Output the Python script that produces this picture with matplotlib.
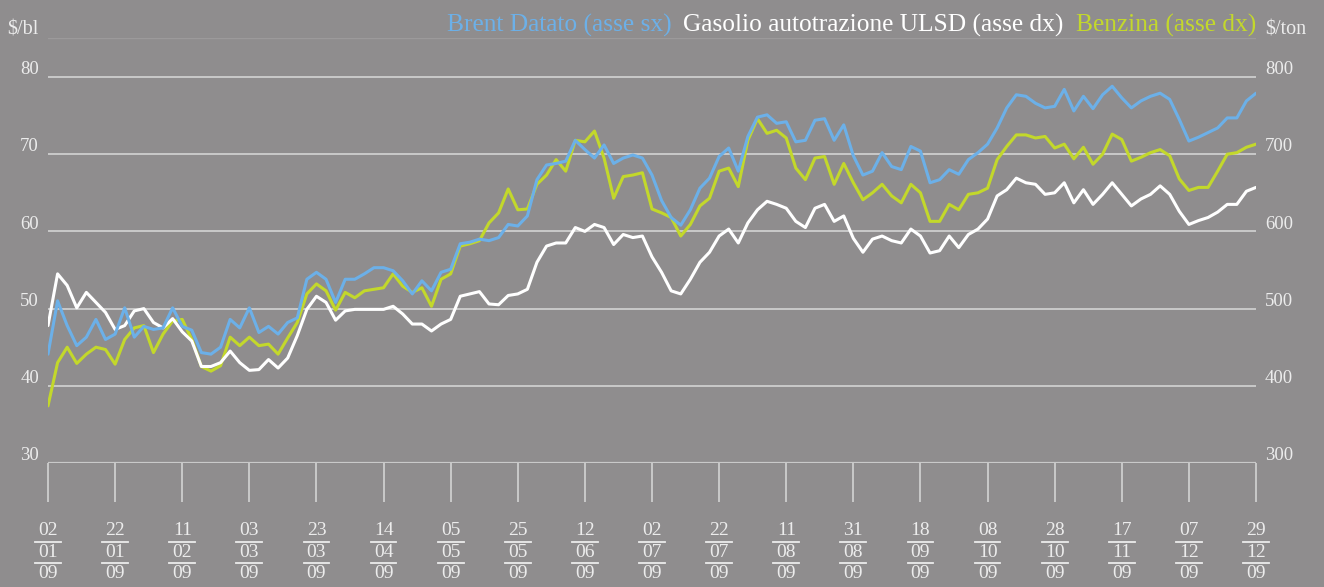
import numpy as np
import matplotlib
matplotlib.use("Agg")
import matplotlib.pyplot as plt

plt.rcParams['font.family'] = ['Liberation Serif', 'DejaVu Serif']

# trading-day index, one sample every 2 sessions (02/01/09 .. 29/12/09)
days = np.arange(0, 253, 2)

# Brent Datato, $/bl (left axis)
brent = [44.1, 51.0, 47.8, 45.2, 46.3, 48.6, 46.0, 46.7, 50.1, 46.3, 47.7, 47.3, 47.5, 50.1, 47.7, 47.2,
         44.3, 44.1, 45.0, 48.6, 47.5, 50.1, 46.9,
         47.7, 46.7, 48.2, 48.8, 53.8, 54.7, 53.8, 50.8, 53.8, 53.8, 54.5, 55.3, 55.3, 54.9, 53.6, 51.9,
         53.6, 52.3, 54.7, 55.1, 58.4, 58.6,
         59.0, 58.8, 59.2, 60.9, 60.7, 62.0, 66.7, 68.6, 68.8, 69.1, 71.8, 70.6, 69.5, 71.2, 68.8, 69.5,
         69.9, 69.5, 67.3, 64.0,
         61.8, 60.8, 62.8, 65.6, 66.9, 69.7, 70.8, 67.8, 72.3, 74.8, 75.1, 74.0, 74.2, 71.6, 71.8, 74.4,
         74.6, 71.8, 73.8, 69.8, 67.3,
         67.8, 70.2, 68.4, 68.0, 71.0, 70.4, 66.3, 66.7, 68.0, 67.4, 69.3, 70.2, 71.3, 73.4, 76.0, 77.7,
         77.5, 76.6, 76.0, 76.2, 78.4,
         75.6, 77.5, 75.9, 77.7, 78.8, 77.3, 76.0, 76.9, 77.5, 77.9, 77.1, 74.5, 71.7, 72.2, 72.8, 73.4,
         74.7, 74.7, 76.9, 77.9]

# Gasolio autotrazione ULSD, $/ton (right axis)
gasolio = [478, 545, 530, 501, 521, 508, 495, 473, 478, 497, 500, 482, 475, 487, 470, 458,
           425, 425, 430, 445, 430, 420, 421,
           434, 423, 436, 465, 499, 516, 508, 485, 497, 499, 499, 499, 499, 503, 493, 480,
           480, 471, 480, 486, 516, 519,
           522, 506, 505, 517, 519, 525, 560, 581, 585, 585, 605, 600, 609, 605, 583, 596,
           592, 594, 567, 547,
           523, 519, 538, 560, 573, 594, 603, 585, 611, 628, 639, 635, 630, 613, 605, 630,
           635, 613, 620, 591, 573,
           590, 594, 588, 585, 603, 594, 572, 575, 594, 579, 596, 603, 616, 646, 654, 669,
           663, 661, 648, 650, 663,
           637, 654, 635, 648, 663, 648, 633, 642, 648, 659, 648, 626, 609, 614, 618, 625,
           635, 635, 652, 657]

# Benzina, $/ton (right axis)
benzina = [374, 430, 450, 429, 441, 450, 447, 428, 460, 475, 478, 443, 467, 484, 486, 460,
           425, 419, 426, 463, 452, 463, 452,
           454, 441, 462, 482, 519, 532, 523, 498, 521, 514, 523, 525, 527, 545, 529, 521,
           527, 503, 538, 545, 581, 584,
           588, 611, 624, 655, 628, 629, 661, 673, 693, 678, 718, 716, 730, 695, 643, 671,
           673, 676, 629, 624,
           618, 594, 609, 633, 643, 678, 682, 658, 718, 746, 727, 731, 721, 682, 667, 695,
           697, 661, 688, 663, 641,
           650, 661, 646, 637, 661, 650, 613, 613, 635, 628, 648, 650, 656, 693, 710, 725,
           725, 721, 723, 708, 713,
           694, 709, 687, 700, 726, 719, 691, 696, 702, 706, 698, 668, 653, 657, 657, 678,
           700, 702, 709, 713]

tick_pos = np.arange(0, 253, 14)
tick_day = ["02", "22", "11", "03", "23", "14", "05", "25", "12", "02",
            "22", "11", "31", "18", "08", "28", "17", "07", "29"]
tick_month = ["01", "01", "02", "03", "03", "04", "05", "05", "06", "07",
              "07", "08", "08", "09", "10", "10", "11", "12", "12"]
tick_year = ["09"] * 19

left_ticks = [30, 40, 50, 60, 70, 80]
right_ticks = [300, 400, 500, 600, 700, 800]

BG = "#8f8d8e"
GRID = "#c9c9c9"
TXT = "#ececec"
BLUE = "#6cb0e8"
GREEN = "#c3d82b"

fig = plt.figure(figsize=(13.24, 5.87), dpi=100, facecolor=BG)
ax = fig.add_axes([48 / 1324, 124 / 587, 1208 / 1324, 424.6 / 587])
ax2 = ax.twinx()
ax.set_zorder(ax2.get_zorder() + 1)
ax.patch.set_visible(False)

ax.set_xlim(0, 252)
ax.set_ylim(30, 85)
ax2.set_ylim(300, 850)

for a in (ax, ax2):
    for s in a.spines.values():
        s.set_visible(False)
    a.set_yticks([])

# grid
for v in right_ticks[1:]:
    ax2.axhline(v, color=GRID, lw=1.4, zorder=0)
ax2.axhline(300, color=GRID, lw=1.6, zorder=0)
ax2.axhline(850, color="#9c9a9b", lw=1.0, zorder=0)

# series
kw = dict(lw=2.2, solid_joinstyle='round', solid_capstyle='round')
ax2.plot(days, benzina, color=GREEN, zorder=2, **kw)
ax2.plot(days, gasolio, color="white", zorder=3, **kw)
ax.plot(days, brent, color=BLUE, zorder=3, **kw)

# x ticks
ax.set_xticks(tick_pos)
ax.tick_params(axis='x', length=28, width=1.4, color=GRID, labelbottom=False)

# fraction-style date labels
tr = ax.get_xaxis_transform()
hw = 2.68
for x, d, m, y in zip(tick_pos, tick_day, tick_month, tick_year):
    ax.text(x, -0.158, d, transform=tr, ha='center', va='center', fontsize=14, color=TXT)
    ax.text(x, -0.2113, m, transform=tr, ha='center', va='center', fontsize=14, color=TXT)
    ax.text(x, -0.2602, y, transform=tr, ha='center', va='center', fontsize=14, color=TXT)
    ax.plot([x - hw, x + hw], [-0.1853, -0.1853], transform=tr, color=TXT, lw=1.3, clip_on=False)
    ax.plot([x - hw, x + hw], [-0.2362, -0.2362], transform=tr, color=TXT, lw=1.3, clip_on=False)

# y labels
for v in left_ticks:
    ax.text(-0.0075, v + 0.35, str(v), transform=ax.get_yaxis_transform(),
            ha='right', va='baseline', fontsize=13.5, color=TXT)
for v in right_ticks:
    ax2.text(1.0075, v + 3.5, str(v), transform=ax2.get_yaxis_transform(),
             ha='left', va='baseline', fontsize=13.5, color=TXT)

fig.text(39 / 1324, 1 - 35 / 587, "$/bl", ha='right', va='baseline', fontsize=14.5, color=TXT)
fig.text(1265 / 1324, 1 - 35 / 587, "$/ton", ha='left', va='baseline', fontsize=14.5, color=TXT)

# legend, built from the right
items = [("Benzina (asse dx)", GREEN),
         ("Gasolio autotrazione ULSD (asse dx)", "white"),
         ("Brent Datato (asse sx)", BLUE)]
renderer = fig.canvas.get_renderer()
xr = 1256
for label, col in items:
    t = fig.text(xr / 1324, 1 - 31.5 / 587, label, ha='right', va='baseline',
                 fontsize=18.3, color=col)
    w = t.get_window_extent(renderer).width
    xr = xr - w - 12

fig.savefig("out.png", dpi=100, facecolor=BG)
